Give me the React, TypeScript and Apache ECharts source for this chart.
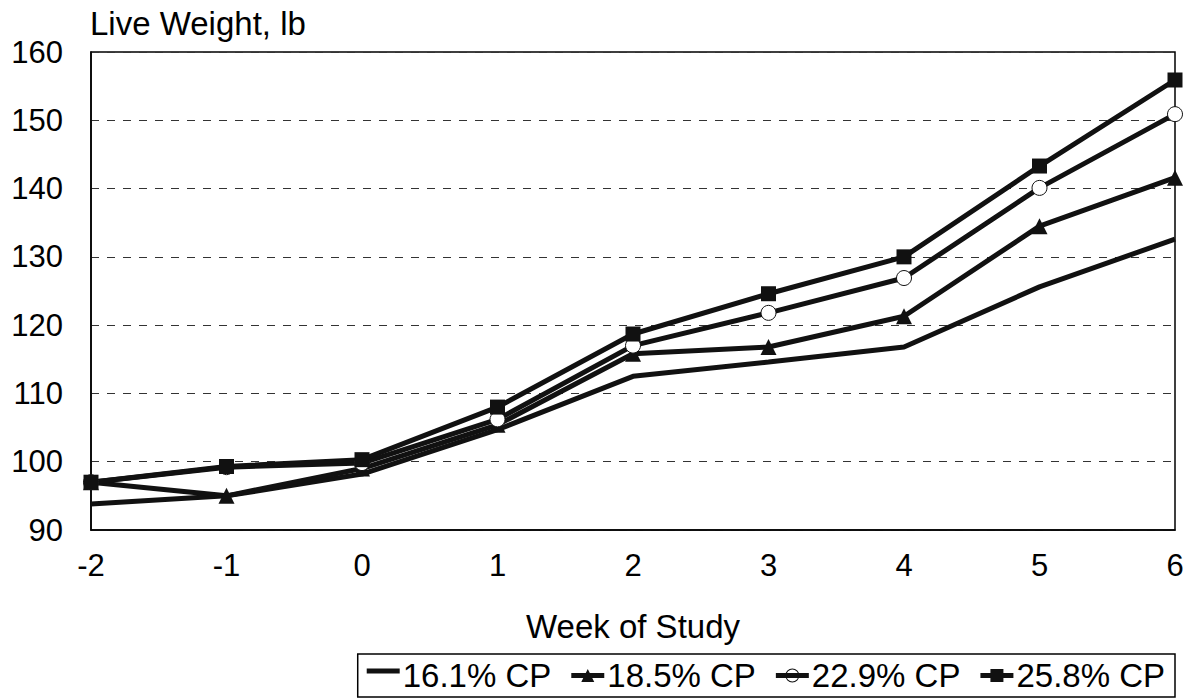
import React, { useEffect, useRef } from "react";
import * as echarts from "echarts";

const weeks = [-2, -1, 0, 1, 2, 3, 4, 5, 6];
const cp161 = [93.8, 95.0, 98.2, 104.7, 112.5, 114.6, 116.8, 125.6, 132.6];
const cp185 = [97.0, 95.0, 99.0, 105.4, 115.8, 116.8, 121.3, 134.5, 141.6];
const cp229 = [97.0, 99.2, 99.8, 106.2, 117.0, 121.8, 126.9, 140.1, 150.9];
const cp258 = [97.0, 99.3, 100.3, 108.0, 118.7, 124.6, 130.0, 143.3, 155.9];
const seriesNames = ["16.1% CP", "18.5% CP", "22.9% CP", "25.8% CP"];

const FONT = "'Liberation Sans', Arial, sans-serif";
const FS = 31;
const FS_BIG = 33;

const ICON_LINE = "path://M0,0.5h33v5H0z M0,0h0.01v0.01H0z M0,15h0.01v0.01H0z";
const ICON_TRI = "path://M0,5h33v5H0z M10,14L16.5,1L23,14z M0,0h0.01v0.01H0z M0,15h0.01v0.01H0z";
const ICON_CIR =
  "path://M0,5h33v5H0z M23.5,7.5A7,7 0 1,1 9.5,7.5A7,7 0 1,1 23.5,7.5z M22.5,7.5A6,6 0 1,0 10.5,7.5A6,6 0 1,0 22.5,7.5z M0,0h0.01v0.01H0z M0,15h0.01v0.01H0z";
const ICON_SQ = "path://M0,5h33v5H0z M10,1h13v13H10z M0,0h0.01v0.01H0z M0,15h0.01v0.01H0z";

export default function App() {
  const ref = useRef<HTMLDivElement>(null);
  useEffect(() => {
    if (!ref.current) return;
    const chart = echarts.init(ref.current, null, { renderer: "svg" });
    const mk = (vals: number[]) => weeks.map((w, i) => [w, vals[i]]);
    const base = {
      type: "line",
      lineStyle: { color: "#111", width: 5 },
      itemStyle: { color: "#111" },
      z: 3,
    };
    const legendItemStyle = { color: "#111", borderWidth: 0 };
    chart.setOption({
      animation: false,
      backgroundColor: "#fff",
      textStyle: { fontFamily: FONT },
      grid: {
        left: 91,
        top: 52,
        right: 16,
        bottom: 170,
        show: true,
        borderColor: "#000",
        borderWidth: 1.5,
        backgroundColor: "transparent",
      },
      graphic: [
        {
          type: "text",
          left: 90,
          top: 7,
          style: { text: "Live Weight, lb", font: `${FS_BIG}px ${FONT}`, fill: "#000" },
        },
      ],
      legend: {
        bottom: 3,
        right: 16,
        orient: "horizontal",
        borderColor: "#000",
        borderWidth: 1.5,
        padding: [5, 10, 5, 9],
        itemGap: 20,
        itemWidth: 33,
        itemHeight: 15,
        textStyle: { fontSize: FS_BIG, color: "#000", fontFamily: FONT, padding: [0, 0, 0, -2] },
        data: [
          { name: seriesNames[0], icon: ICON_LINE, itemStyle: legendItemStyle },
          { name: seriesNames[1], icon: ICON_TRI, itemStyle: legendItemStyle },
          { name: seriesNames[2], icon: ICON_CIR, itemStyle: legendItemStyle },
          { name: seriesNames[3], icon: ICON_SQ, itemStyle: legendItemStyle },
        ],
      },
      xAxis: {
        type: "value",
        min: -2,
        max: 6,
        interval: 1,
        name: "Week of Study",
        nameLocation: "middle",
        nameGap: 80,
        nameTextStyle: { fontSize: FS_BIG, color: "#000", fontFamily: FONT },
        axisLine: { show: true, onZero: false, lineStyle: { color: "#000", width: 1.5 } },
        axisTick: { show: false },
        splitLine: { show: false },
        axisLabel: { fontSize: FS, color: "#000", margin: 20, fontFamily: FONT },
      },
      yAxis: {
        type: "value",
        min: 90,
        max: 160,
        interval: 10,
        axisLine: { show: true, onZero: false, lineStyle: { color: "#000", width: 1.5 } },
        axisTick: { show: false },
        splitLine: { show: true, lineStyle: { color: "#333", type: [8, 8], width: 1 } },
        axisLabel: { fontSize: FS, color: "#000", margin: 28, fontFamily: FONT },
      },
      series: [
        { ...base, name: seriesNames[0], data: mk(cp161), symbol: "none", showSymbol: false },
        { ...base, name: seriesNames[1], data: mk(cp185), symbol: "triangle", symbolSize: 16 },
        {
          ...base,
          name: seriesNames[2],
          data: mk(cp229),
          symbol: "circle",
          symbolSize: 15,
          itemStyle: { color: "#fff", borderColor: "#111", borderWidth: 1 },
          lineStyle: { color: "#111", width: 5 },
        },
        { ...base, name: seriesNames[3], data: mk(cp258), symbol: "rect", symbolSize: 15 },
      ],
    });
    return () => chart.dispose();
  }, []);
  return <div ref={ref} style={{ width: 1191, height: 700, position: "absolute", left: 0, top: 0 }} />;
}
